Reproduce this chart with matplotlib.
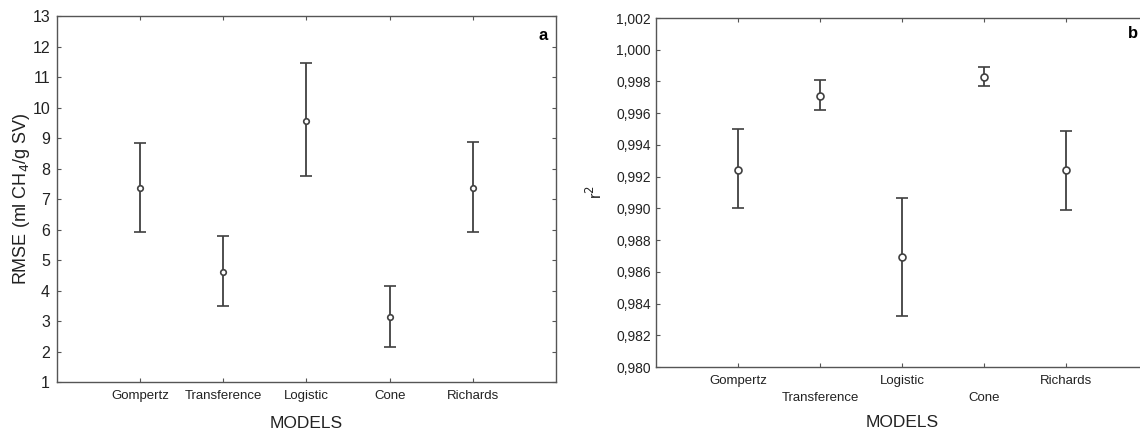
import numpy as np
import matplotlib
matplotlib.use("Agg")
import matplotlib.pyplot as plt

plt.rcParams['font.family'] = ['Liberation Sans', 'DejaVu Sans']

models = ["Gompertz", "Transference", "Logistic", "Cone", "Richards"]

# panel a: RMSE mean, lower and upper limits
rmse_mean = [7.37, 4.61, 9.57, 3.13, 7.37]
rmse_low = [5.93, 3.48, 7.75, 2.16, 5.93]
rmse_high = [8.85, 5.79, 11.45, 4.15, 8.87]

# panel b: r2 mean, lower and upper limits
r2_mean = [0.99243, 0.99707, 0.98694, 0.99826, 0.99241]
r2_low = [0.99000, 0.99617, 0.98324, 0.99770, 0.98992]
r2_high = [0.99498, 0.99809, 0.99068, 0.99889, 0.99490]

ink = "#404040"
spine_col = "#555555"

fig = plt.figure(figsize=(11.4, 4.3), dpi=100)
ax1 = fig.add_axes([0.050, 0.1116, 0.4377, 0.851])
ax2 = fig.add_axes([0.5754, 0.1465, 0.4316, 0.8116])

x = np.arange(1, len(models) + 1)


def draw(ax, mean, low, high, ms):
    mean = np.array(mean)
    err = [mean - np.array(low), np.array(high) - mean]
    ax.errorbar(x, mean, yerr=err, fmt='o', color=ink, ecolor=ink,
                elinewidth=1.3, capsize=4, capthick=1.3,
                markersize=ms, markerfacecolor='white', markeredgecolor=ink,
                markeredgewidth=1.2)
    ax.set_xlim(0, 6)
    for s in ax.spines.values():
        s.set_color(spine_col)
        s.set_linewidth(1.0)
    ax.tick_params(direction='in', length=3, width=0.8, color=spine_col,
                   top=True, right=True, labelcolor='#222222')


draw(ax1, rmse_mean, rmse_low, rmse_high, 4)
ax1.set_ylim(1, 13)
ax1.set_yticks(range(1, 14))
ax1.set_xticks(x)
ax1.set_xticklabels(models, fontsize=9.5)
ax1.tick_params(axis='y', labelsize=11.5, pad=5)
ax1.tick_params(axis='x', pad=6)
ax1.set_xlabel("MODELS", fontsize=12.5, color='#222222', labelpad=10)
ax1.set_ylabel("RMSE (ml CH$_4$/g SV)", fontsize=13, color='#222222', labelpad=0)
ax1.text(0.974, 0.948, "a", transform=ax1.transAxes, ha='center', va='center',
         fontsize=12, fontweight='bold')

draw(ax2, r2_mean, r2_low, r2_high, 5)
ax2.set_ylim(0.980, 1.002)
yt = np.arange(0.980, 1.0021, 0.002)
ax2.set_yticks(yt)
ax2.set_yticklabels([f"{v:.3f}".replace(".", ",") for v in yt], fontsize=10)
ax2.set_xticks(x)
ax2.set_xticklabels([m if i % 2 == 0 else "\n" + m for i, m in enumerate(models)],
                    fontsize=9.5, linespacing=1.55)
ax2.tick_params(axis='x', pad=6)
ax2.set_xlabel("MODELS", fontsize=12.5, color='#222222', labelpad=8)
ax2.set_ylabel("r$^2$", fontsize=12, color='#222222', labelpad=8)
ax2.text(0.970, 0.957, "b", transform=ax2.transAxes, ha='center', va='center',
         fontsize=12, fontweight='bold')

fig.savefig("out.png", dpi=100)
